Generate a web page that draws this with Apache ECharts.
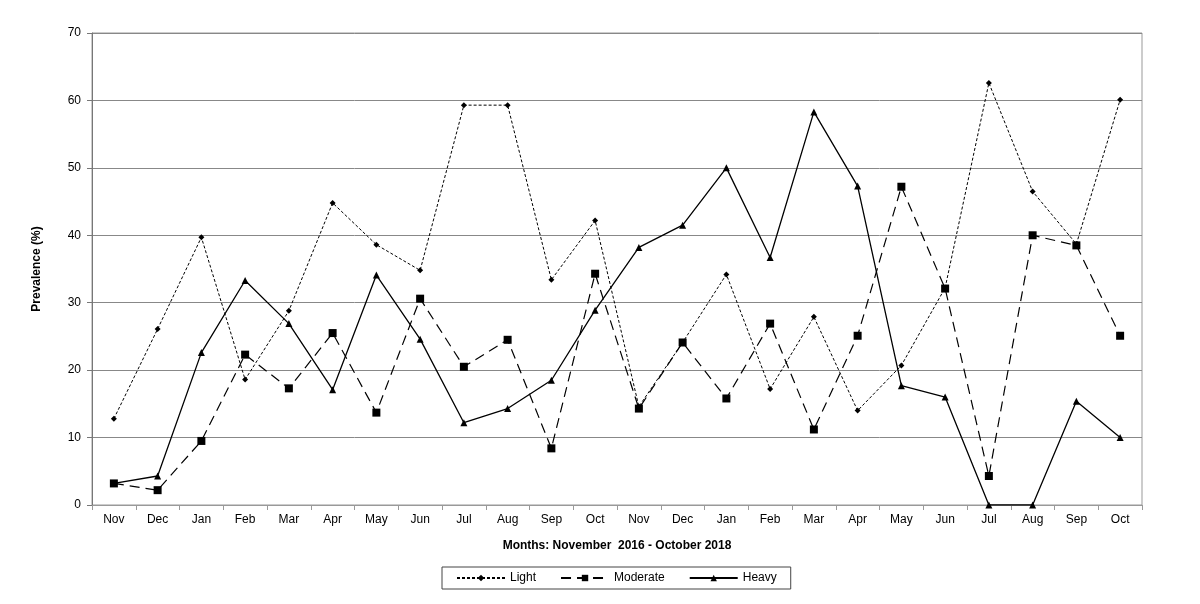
<!DOCTYPE html>
<html>
<head>
<meta charset="utf-8">
<script src="https://cdn.jsdelivr.net/npm/echarts@6/dist/echarts.min.js"></script>
<style>
  html, body { margin: 0; padding: 0; background: #fff; }
  #chart { width: 1200px; height: 604px; }
</style>
</head>
<body>
<div id="chart"></div>
<script>
// months Nov 2016 - Oct 2018
var months = ['Nov','Dec','Jan','Feb','Mar','Apr','May','Jun','Jul','Aug','Sep','Oct',
              'Nov','Dec','Jan','Feb','Mar','Apr','May','Jun','Jul','Aug','Sep','Oct'];
var light = [12.8, 26.1, 39.7, 18.6, 28.8, 44.8, 38.6, 34.8, 59.3, 59.3, 33.4, 42.2,
             14.6, 24.1, 34.2, 17.2, 27.9, 14.0, 20.7, 32.2, 62.6, 46.5, 38.7, 60.1];
var moderate = [3.2, 2.2, 9.5, 22.3, 17.3, 25.5, 13.7, 30.6, 20.5, 24.5, 8.4, 34.3,
                14.3, 24.1, 15.8, 26.9, 11.2, 25.1, 47.2, 32.1, 4.3, 40.0, 38.5, 25.1];
var heavy = [3.2, 4.3, 22.6, 33.3, 26.9, 17.1, 34.1, 24.6, 12.2, 14.3, 18.5, 28.9,
             38.2, 41.5, 50.0, 36.7, 58.3, 47.3, 17.7, 16.0, 0, 0, 15.4, 10.0];

var font = "'Liberation Sans', Arial, sans-serif";
var myChart = echarts.init(document.getElementById('chart'));

var option = {
    animation: false,
    backgroundColor: '#fff',
    textStyle: { fontFamily: font, color: '#000' },
    grid: { left: 92, right: 58, top: 33, bottom: 99, show: true, borderColor: '#999', borderWidth: 1 },
    legend: {
        left: 442,
        top: 567,
        padding: [5, 14],
        itemGap: 24,
        itemWidth: 48,
        itemHeight: 8,
        borderColor: '#444',
        borderWidth: 1,
        textStyle: { fontFamily: font, fontSize: 12, color: '#000' },
        data: ['Light', 'Moderate', 'Heavy']
    },
    xAxis: {
        type: 'category',
        data: months,
        boundaryGap: true,
        name: 'Months: November  2016 - October 2018',
        nameLocation: 'middle',
        nameGap: 35,
        nameTextStyle: { fontFamily: font, fontSize: 12, fontWeight: 'bold', color: '#000' },
        axisLine: { lineStyle: { color: '#999', width: 1 } },
        axisTick: { show: true, interval: 0, length: 5, lineStyle: { color: '#999' } },
        axisLabel: { interval: 0, margin: 9, fontFamily: font, fontSize: 12, color: '#000' },
        splitLine: { show: false }
    },
    yAxis: {
        type: 'value',
        min: 0,
        max: 70,
        interval: 10,
        name: 'Prevalence (%)',
        nameLocation: 'middle',
        nameGap: 49,
        nameTextStyle: { fontFamily: font, fontSize: 12, fontWeight: 'bold', color: '#000' },
        axisLine: { show: true, lineStyle: { color: '#777', width: 1 } },
        axisTick: { show: true, length: 5, lineStyle: { color: '#777' } },
        axisLabel: { margin: 11, fontFamily: font, fontSize: 12, color: '#000' },
        splitLine: { lineStyle: { color: '#888', width: 1 } }
    },
    series: [
        {
            name: 'Light', type: 'line', data: light,
            symbol: 'diamond', symbolSize: 6, showAllSymbol: true,
            lineStyle: { color: '#000', width: 1, type: [3, 2] },
            itemStyle: { color: '#000' }
        },
        {
            name: 'Moderate', type: 'line', data: moderate,
            symbol: 'rect', symbolSize: 8, showAllSymbol: true,
            lineStyle: { color: '#000', width: 1.2, type: [10, 6] },
            itemStyle: { color: '#000' }
        },
        {
            name: 'Heavy', type: 'line', data: heavy,
            symbol: 'triangle', symbolSize: 7, showAllSymbol: true,
            lineStyle: { color: '#000', width: 1.3, type: 'solid' },
            itemStyle: { color: '#000' }
        }
    ]
};
myChart.setOption(option);
</script>
</body>
</html>
